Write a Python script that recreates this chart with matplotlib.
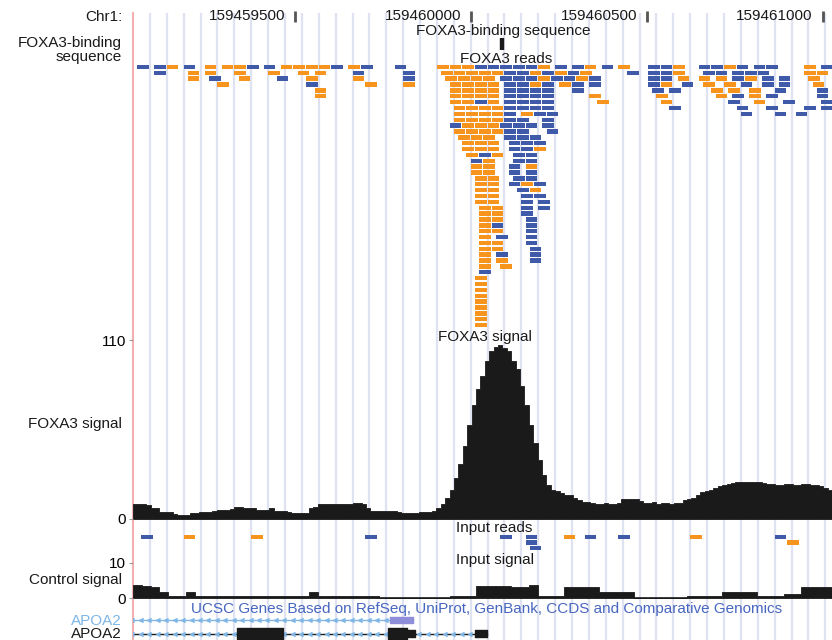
import matplotlib.pyplot as plt
import numpy as np

plt.rcParams['font.family'] = ['Liberation Sans', 'DejaVu Sans']

# -------------------------
# Data
# -------------------------
view_start = 159459040
view_end = 159461027
ruler_ticks = [159459500, 159460000, 159460500, 159461000]

# FOXA3-binding sequence
motif = (159460082, 159460091)

# reads: token = strand + column (12 bp columns from view_start), 36 bp reads
# o = plus strand (orange), b = minus strand (blue)
col_bp = 12
read_len = 36
foxa3_reads = [
    "b1 b5 o8 b12 o17 o21 o24 b27 b31 o35 o38 o41 o44 b47 o51 b54 b62 o72 o75 o78 b81 b84 b87 b90 b93 o96 b100 b104 o107 b111 o115 b122 b125 o128 b134 b137 o140 b143 b147 b150 o159 b163",
    "b5 o13 o17 o24 o32 o39 o43 b52 b64 o73 o76 o79 o82 o85 b88 b91 o94 b97 o100 b103 o106 b117 b122 b125 o128 b135 b138 b142 b145 b148 o159 o162",
    "o13 b18 o25 b34 o41 o52 b64 o74 o77 o80 o83 b87 b90 b93 o96 b99 b102 o105 b108 b122 b125 o129 o134 o138 b142 o145 b149 b153 o160",
    "o20 b41 o55 o64 o75 o78 o81 o84 b88 b91 o94 b97 o101 b104 b108 b122 o125 b130 o135 o140 b144 b149 b153 o161",
    "o43 o75 o78 o81 o84 b88 b91 b94 b97 b104 b123 b127 o137 o141 o146 b152 b162",
    "o43 o75 o78 o81 o84 b88 b91 b94 b97 o108 o124 o138 b142 o146 b150 b162",
    "o75 o78 b81 o84 b88 b91 b94 b97 o110 o125 b141 o147 b154 b163",
    "o76 o79 o82 o85 b88 b91 b94 b97 b127 b143 b150 b159 b163",
    "o76 o79 o82 o85 b88 o92 b95 b98 b144 b152 b157",
    "o76 o79 o82 o85 b88 b91 b97",
    "b75 o78 o81 o84 b87 b90 b93 b97",
    "o76 o79 o82 o85 b88 b91 b98",
    "o77 o80 o83 b88 b91 b94",
    "o78 o81 o84 b89 b92 b95",
    "o78 o81 o84 b89 b92 o95",
    "o79 b82 o85 b90 b93",
    "b80 o83 b90 b93",
    "o80 o83 b89 o93",
    "o80 o83 b89 b93",
    "o81 o84 b90 b93",
    "o81 o84 b89 o92 b95",
    "o81 o84 b91 o94",
    "o81 o84 b92 b95",
    "o81 o84 b92 b96",
    "o82 o85 b92 b96",
    "o82 o85 b92",
    "o82 o85 b93",
    "o82 b85 b93",
    "o82 o85 b93",
    "o82 b86 b93",
    "o82 o85 b93",
    "o82 o85 b94",
    "o82 b86 b94",
    "o82 o86 b94",
    "o82 o87",
    "b82",
    "o81", "o81", "o81", "o81", "o81", "o81", "o81", "o81", "o81",
]
input_reads = [
    "b2 o12 o28 b55 b87 b93 o102 b107 b115 o132 b152",
    "b93 o155",
    "b94",
]

# FOXA3 signal in 12.5 bp bins from view_start
foxa3_bin_bp = 12.5
foxa3_signal = [
    9, 9.5, 9, 8.5, 7, 6.5, 4.5, 4.5, 4, 3,
    2.5, 2.5, 2.5, 3.5, 3.5, 4, 4, 4.5, 5, 5.5,
    5.5, 5.5, 6, 7.5, 7.5, 7, 7, 6.5, 5.5, 5.5,
    5.5, 7, 5, 5, 5, 4, 3.5, 3.5, 3.5, 3.5,
    7, 7.5, 9.5, 9.5, 9.5, 9, 9, 9, 9, 9,
    10, 10, 9, 7, 5, 5, 5, 5, 5, 5,
    4.5, 3.5, 3.5, 3.7, 3.7, 4, 4, 4.5, 5, 6.5,
    9, 13, 18, 25, 34, 45, 58, 70, 80, 88,
    97, 103, 106, 107, 105, 103, 97, 92, 82, 70,
    58, 47, 36, 27, 21, 18, 17, 16, 15, 14.5,
    13, 11.5, 10.5, 10.5, 10, 9.5, 9.5, 10, 9.5, 9.5,
    10, 12, 12, 12, 12, 11, 10, 10, 10.5, 9.5,
    10, 10, 9.5, 10, 10, 11.5, 12, 13, 15, 16.5,
    17.5, 18, 19, 20, 21, 21.5, 22, 22.5, 22.5, 23,
    23, 23, 22.5, 22, 21.5, 21.5, 21, 21, 21.5, 21.5,
    21, 21, 21.5, 21.5, 21, 21, 20, 19, 18, 18,
]
# control (input) signal in 25 bp bins
control_bin_bp = 25
control_signal = [
    3.7, 3.5, 3.1, 1.7, 0.7, 0.7, 1.7, 0.7, 0.7, 0.7,
    0.7, 0.7, 0.7, 0.7, 0.7, 0.7, 0.7, 0.7, 0.7, 0.7,
    1.7, 0.7, 0.7, 0.7, 0.7, 0.7, 0.7, 0.7, 0, 0,
    0, 0, 0, 0, 0, 0, 0.7, 0.7, 0.7, 3.5,
    3.5, 3.5, 3.5, 3, 3, 3.7, 0.7, 0.7, 0.7, 3,
    3, 3, 3, 1.7, 1.7, 1.7, 1.7, 0, 0, 0,
    0, 0, 0, 0.7, 0.7, 0.7, 0.7, 1.7, 1.7, 1.7,
    1.7, 0.7, 0.7, 0.7, 1.2, 1.2, 3, 3, 3, 3,
]

# APOA2 gene models
ucsc_line = (159458900, 159459835)
ucsc_blocks = [(159459770, 159459835)]
refseq_line = (159458900, 159460046)
refseq_cds = [(159459335, 159459466), (159459764, 159459818)]
refseq_utr = [(159459818, 159459841), (159460012, 159460046)]

ORANGE = '#f7941d'
BLUE = '#3f5aa8'
LIGHTBLUE = '#7fb6e6'
INK = '#1a1a1a'

# -------------------------
# Figure helpers (pixel layout)
# -------------------------
W, H = 832, 640
X0, X1 = 133, 832
fig = plt.figure(figsize=(W / 100, H / 100), dpi=100)


def track(top, bottom, z=1):
    ax = fig.add_axes([X0 / W, 1 - bottom / H, (X1 - X0) / W, (bottom - top) / H])
    ax.set_zorder(z)
    ax.set_xlim(view_start, view_end)
    ax.set_facecolor('none')
    for s in ax.spines.values():
        s.set_visible(False)
    ax.set_xticks([])
    ax.set_yticks([])
    return ax


def label(x, y, s, **kw):
    kw.setdefault('fontsize', 11)
    kw.setdefault('va', 'center')
    kw.setdefault('color', INK)
    fig.text(x / W, 1 - y / H, s, **kw)


def draw_reads(ax, rows):
    for r, row in enumerate(rows):
        for tok in row.split():
            start = view_start + int(tok[1:]) * col_bp
            ax.barh(r, read_len - 3, left=start, height=0.74,
                    color=ORANGE if tok[0] == 'o' else BLUE, linewidth=0)


def draw_signal(ax, values, bin_bp):
    edges = view_start + np.arange(len(values) + 1) * bin_bp
    ax.fill_between(edges, np.append(values, values[-1]), step='post',
                    color=INK, linewidth=0.6, edgecolor=INK)


# -------------------------
# Background guide lines
# -------------------------
bg = track(13, 640, z=-1)
grid = np.arange(view_start + 48, view_end, 48)
bg.vlines(grid, 0, 1, transform=bg.get_xaxis_transform(), color='#dfe2f0', lw=1.6)
bg.axvline(view_start, color='#f4b0b0', lw=1.5, clip_on=False)

# -------------------------
# Ruler
# -------------------------
ax = track(8, 26)
ax.set_ylim(0, 1)
ax.vlines(ruler_ticks, 0.2, 0.85, color='#555555', lw=2)
for t in ruler_ticks:
    ax.annotate(f'{t}', (t, 0.55), xytext=(-7, 0), textcoords='offset points',
                ha='right', va='center', fontsize=11, color=INK)
label(122, 17, 'Chr1:', ha='right')

# -------------------------
# FOXA3-binding sequence
# -------------------------
ax = track(38, 49)
ax.set_ylim(0, 1)
ax.broken_barh([(motif[0], motif[1] - motif[0])], (0, 1), color=INK)
label(503, 31, 'FOXA3-binding sequence', ha='center')
label(122, 43, 'FOXA3-binding', ha='right')
label(122, 57, 'sequence', ha='right')

# -------------------------
# FOXA3 reads
# -------------------------
ax = track(64, 328)
ax.set_ylim(len(foxa3_reads) - 0.5, -0.5)
draw_reads(ax, foxa3_reads)
label(506, 59, 'FOXA3 reads', ha='center')

# -------------------------
# FOXA3 signal
# -------------------------
ax = track(340, 519, z=2)
ax.set_ylim(0, 110)
draw_signal(ax, foxa3_signal, foxa3_bin_bp)
ax.set_yticks([0, 110])
ax.tick_params(axis='y', length=3, width=0.8, color='#999999', labelsize=11, pad=2)
label(485, 337, 'FOXA3 signal', ha='center')
label(122, 424, 'FOXA3 signal', ha='right')

# -------------------------
# Input reads
# -------------------------
ax = track(534, 551)
ax.set_ylim(len(input_reads) - 0.5, -0.5)
draw_reads(ax, input_reads)
label(494, 528, 'Input reads', ha='center')

# -------------------------
# Control (input) signal
# -------------------------
ax = track(563, 598, z=2)
ax.set_ylim(0, 10)
draw_signal(ax, control_signal, control_bin_bp)
ax.axhline(0, color=INK, lw=1.2)
ax.set_yticks([0, 10])
ax.tick_params(axis='y', length=3, width=0.8, color='#999999', labelsize=11, pad=2)
label(495, 560, 'Input signal', ha='center')
label(122, 580, 'Control signal', ha='right')

# -------------------------
# Genes
# -------------------------
ax = track(607, 640)
ax.set_ylim(1.48, -0.96)
for row, line, color in [(0, ucsc_line, LIGHTBLUE), (1, refseq_line, INK)]:
    ax.plot(line, [row, row], color=color, lw=1, zorder=1)
    chev = np.arange(line[0], line[1], 24)
    ax.plot(chev, np.full(len(chev), row), ls='none', marker=8, ms=3.5,
            color=LIGHTBLUE, zorder=2)
for s, e in ucsc_blocks:
    ax.broken_barh([(s, e - s)], (-0.22, 0.44), color='#8e8edb', zorder=3)
for s, e in refseq_cds:
    ax.broken_barh([(s, e - s)], (1 - 0.4, 0.8), color=INK, zorder=3)
for s, e in refseq_utr:
    ax.broken_barh([(s, e - s)], (1 - 0.25, 0.5), color=INK, zorder=3)
label(487, 609, 'UCSC Genes Based on RefSeq, UniProt, GenBank, CCDS and Comparative Genomics',
      ha='center', color='#4766c0')
label(122, 621, 'APOA2', ha='right', color=LIGHTBLUE)
label(122, 634, 'APOA2', ha='right')

fig.savefig('out.png', dpi=100)
